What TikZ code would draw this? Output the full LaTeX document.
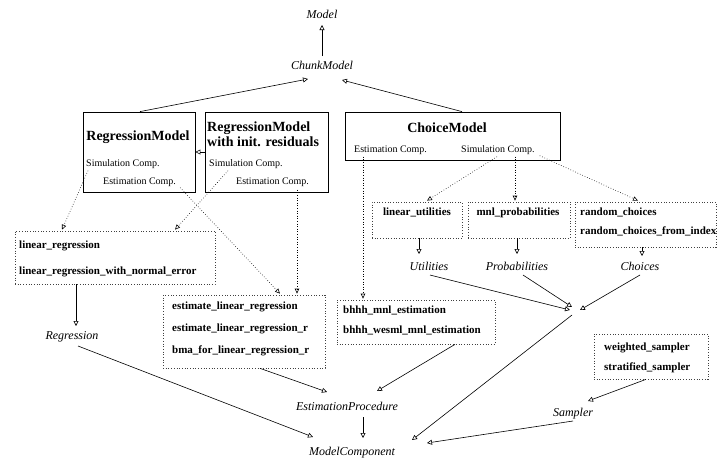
\documentclass[tikz,border=0pt]{standalone}
\usepackage{fontspec}
\setmainfont{Liberation Serif}
\usetikzlibrary{arrows.meta,calc}
\begin{document}
\begin{tikzpicture}[x=1pt,y=-1pt,
  lbl/.style={font=\fontsize{12}{14}\selectfont\itshape, inner sep=0pt, text height=8.5pt, text depth=2.5pt},
  item/.style={font=\fontsize{11}{13}\selectfont\bfseries, inner sep=0pt, text height=7.5pt, text depth=2.5pt},
  small/.style={font=\fontsize{10}{11}\selectfont, inner sep=0pt, text height=7pt, text depth=2pt},
  title/.style={font=\fontsize{14}{15}\selectfont\bfseries, inner sep=0pt},
  solidbox/.style={draw, line width=0.8pt, inner sep=0pt},
  dotbox/.style={draw=black!75, dotted, line width=0.7pt, inner sep=0pt},
  arr/.style={-{Triangle[open,length=5pt,width=5pt]}, line width=0.6pt},
  darr/.style={dotted, -{Triangle[open,length=5pt,width=4.5pt]}, line width=0.6pt},
]
\useasboundingbox (0,0) rectangle (717,461);

% italic labels
\node[lbl] (model) at (322,15) {Model};
\node[lbl] (chunk) at (322,66) {ChunkModel};
\node[lbl] (reg) at (72,336) {Regression};
\node[lbl] (util) at (429,267) {Utilities};
\node[lbl] (prob) at (517,267) {Probabilities};
\node[lbl] (cho) at (640,267) {Choices};
\node[lbl] (ep) at (347,407) {EstimationProcedure};
\node[lbl] (samp) at (573,413) {Sampler};
\node[lbl] (mc) at (352,452) {ModelComponent};
\coordinate (hub) at (577,311);

% solid model boxes
\node[solidbox, minimum width=112pt, minimum height=80pt] (rm) at (139,152) {};
\node[solidbox, minimum width=123pt, minimum height=80pt] (rmi) at (266.5,152) {};
\node[solidbox, minimum width=215pt, minimum height=48pt] (ch) at (452.5,136) {};

\node[title] (rmT) at (138,137) {RegressionModel};
\node[title, anchor=west, align=left] (rmiT) at (207,134.5) {RegressionModel\\with init. residuals};
\node[title] (chT) at (447,128) {ChoiceModel};

\node[small, anchor=west] (rmS) at (86,164) {Simulation Comp.};
\node[small, anchor=west] (rmE) at (103,182) {Estimation Comp.};
\node[small, anchor=west] (rmiS) at (209,164) {Simulation Comp.};
\node[small, anchor=west] (rmiE) at (236,182) {Estimation Comp.};
\node[small, anchor=west] (chE) at (354,150) {Estimation Comp.};
\node[small, anchor=west] (chS) at (461,150) {Simulation Comp.};

% dotted component boxes
\node[dotbox, minimum width=200pt, minimum height=53pt] (lr) at (115,257.5) {};
\node[item, anchor=west] (lr1) at (19,246) {linear\_regression};
\node[item, anchor=west] (lr2) at (19,272) {linear\_regression\_with\_normal\_error};

\node[dotbox, minimum width=162pt, minimum height=73pt] (est) at (244,331.5) {};
\node[item, anchor=west] (est1) at (172,307) {estimate\_linear\_regression};
\node[item, anchor=west] (est2) at (172,329) {estimate\_linear\_regression\_r};
\node[item, anchor=west] (est3) at (172,351) {bma\_for\_linear\_regression\_r};

\node[dotbox, minimum width=158pt, minimum height=44pt] (bh) at (416,322) {};
\node[item, anchor=west] (bh1) at (343,311) {bhhh\_mnl\_estimation};
\node[item, anchor=west] (bh2) at (343,331) {bhhh\_wesml\_mnl\_estimation};

\node[dotbox, minimum width=90pt, minimum height=36pt] (lu) at (417,220) {};
\node[item] (lu1) at (417,213) {linear\_utilities};

\node[dotbox, minimum width=102pt, minimum height=36pt] (mnl) at (519,220) {};
\node[item] (mnl1) at (518,213) {mnl\_probabilities};

\node[dotbox, minimum width=141pt, minimum height=45pt] (rc) at (645.5,224.5) {};
\node[item, anchor=west] (rc1) at (580,213) {random\_choices};
\node[item, anchor=west] (rc2) at (580,232) {random\_choices\_from\_index};

\node[dotbox, minimum width=114pt, minimum height=45pt] (ws) at (651,356.5) {};
\node[item, anchor=west] (ws1) at (604,348) {weighted\_sampler};
\node[item, anchor=west] (ws2) at (604,368) {stratified\_sampler};

% solid arrows
\draw[arr] ($(chunk)+(0,-10)$) -- ($(model)+(0,10)$);
\draw[arr] ($(rm.north)+(1,0)$) -- ($(chunk)+(-14,13)$);
\draw[arr] ($(ch.north)+(9.5,0)$) -- ($(chunk)+(20,14)$);
\draw[arr] (rmi.west) -- (rm.east);
\draw[arr] ($(lr.south)+(-39,0)$) -- ($(reg)+(4,-10)$);
\draw[arr] ($(lu.south)+(2,0)$) -- ($(util)+(-10,-13)$);
\draw[arr] ($(mnl.south)+(-2,0)$) -- ($(prob)+(0,-13)$);
\draw[arr] ($(rc.south)+(-3.5,0)$) -- ($(cho)+(2,-11)$);
\draw[arr] ($(util)+(1,8)$) -- ($(hub)+(-7,-1)$);
\draw[arr] ($(prob)+(6,8)$) -- ($(hub)+(-5,-4)$);
\draw[arr] ($(cho)+(0,8)$) -- ($(hub)+(3,-1)$);
\draw[arr] ($(hub)+(-5,4)$) -- ($(mc)+(60,-12)$);
\draw[arr] ($(reg)+(6,10)$) -- ($(mc)+(-39,-15)$);
\draw[arr] ($(est.south)+(16,0)$) -- ($(ep)+(-20,-15)$);
\draw[arr] ($(bh.south)+(39,0)$) -- ($(ep)+(30,-16)$);
\draw[arr] ($(ep)+(16,10)$) -- ($(mc)+(11,-14)$);
\draw[arr] ($(ws.south)+(-5,0)$) -- ($(samp)+(15,-12)$);
\draw[arr] ($(samp)+(0,8)$) -- ($(mc)+(75,-9)$);

% dotted arrows
\draw[darr] ($(rmS.south west)+(2,2)$) -- ($(lr.north)+(-53,-1)$);
\draw[darr] ($(rmiS.south west)+(19,2)$) -- ($(lr.north)+(60,-1)$);
\draw[darr] ($(rmE.south east)+(4,1)$) -- ($(est.north)+(36,-1)$);
\draw[darr] ($(rmiE.south west)+(61,3)$) -- ($(est.north)+(53,-1)$);
\draw[darr] ($(chE.south west)+(9,2)$) -- ($(bh.north)+(-53,-1)$);
\draw[darr] ($(chS.south west)+(36,2)$) -- ($(lu.north)+(10,-1)$);
\draw[darr] ($(chS.south west)+(54,2)$) -- ($(mnl.north)+(-4,-1)$);
\draw[darr] ($(chS.south east)+(5,1)$) -- ($(rc.north)+(-7.5,-1)$);
\end{tikzpicture}
\end{document}
